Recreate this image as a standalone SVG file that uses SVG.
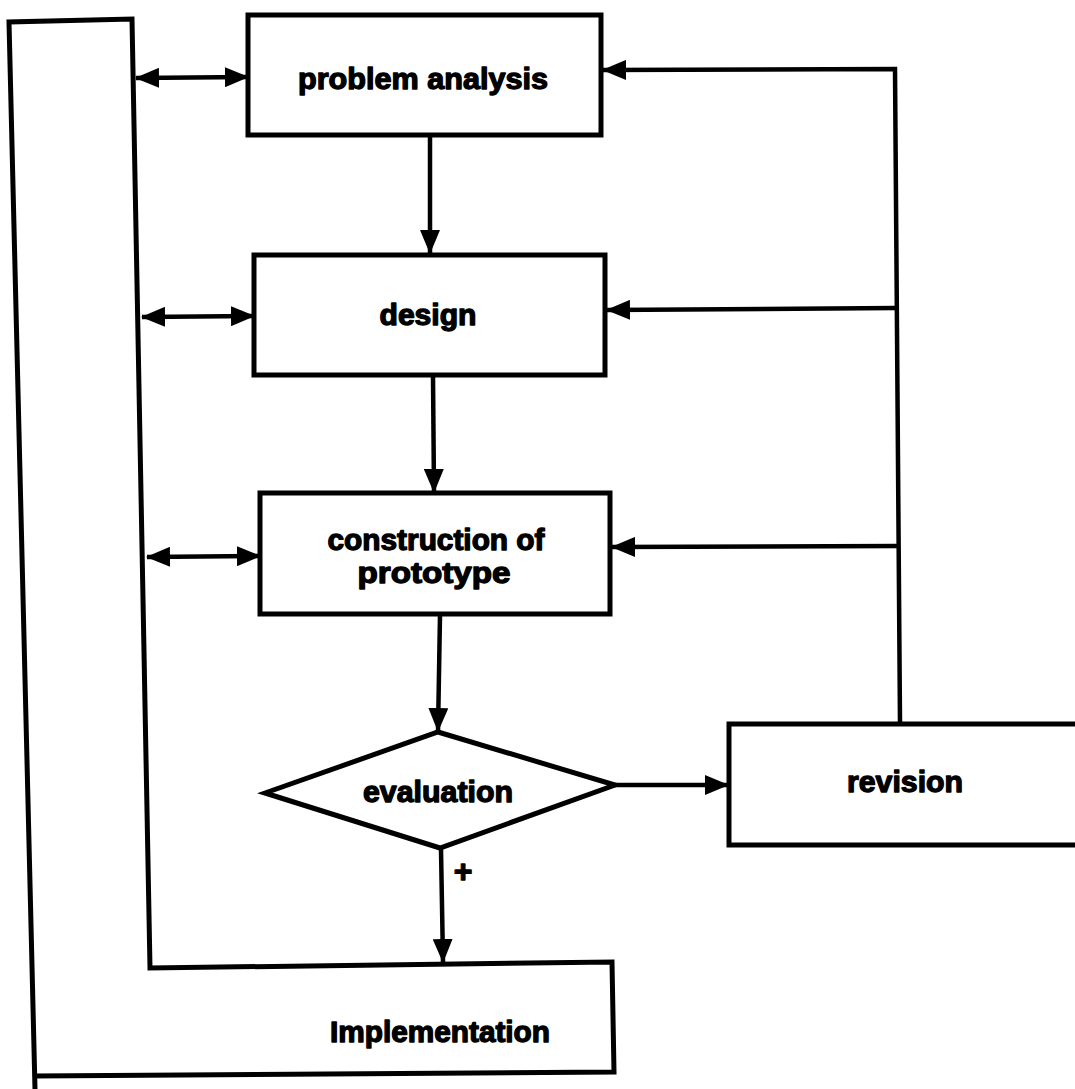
<svg xmlns="http://www.w3.org/2000/svg" width="1075" height="1089" viewBox="0 0 1075 1089">
<style>
.box{fill:#fff;stroke:#000;stroke-width:5;stroke-linejoin:miter}
.ln{fill:none;stroke:#000;stroke-width:4.5}
.t{font-family:"Liberation Sans",Arial,sans-serif;font-weight:bold;font-size:29px;fill:#000;stroke:#000;stroke-width:1.3;stroke-linejoin:round;text-anchor:middle}
</style>
<defs>
<marker id="ah" markerUnits="userSpaceOnUse" markerWidth="24" markerHeight="20" refX="23" refY="10" orient="auto-start-reverse">
<path d="M0,0 L24,10 L0,20 Z" fill="#000"/>
</marker>
</defs>
<rect width="1075" height="1089" fill="#fff"/>
<g id="implementation">
<path class="box" style="fill:none" d="M35,1089 L9,22 L132,19 L150,968 L612,962 L614,1072 L34,1076"/>
<text class="t" x="440" y="1042" textLength="220" lengthAdjust="spacingAndGlyphs">Implementation</text>
</g>
<g id="problem-analysis">
<rect class="box" x="248" y="15" width="353" height="120"/>
<text class="t" x="423" y="89" textLength="250" lengthAdjust="spacingAndGlyphs">problem analysis</text>
</g>
<g id="design">
<rect class="box" x="254" y="255" width="351" height="120"/>
<text class="t" x="428" y="325" textLength="97" lengthAdjust="spacingAndGlyphs">design</text>
</g>
<g id="construction">
<rect class="box" x="260" y="493" width="350" height="121"/>
<text class="t" x="436" y="550" textLength="217" lengthAdjust="spacingAndGlyphs">construction of</text>
<text class="t" x="434" y="583" textLength="153" lengthAdjust="spacingAndGlyphs">prototype</text>
</g>
<g id="evaluation">
<polygon class="box" points="438,732 615,785 440,848 265,793"/>
<text class="t" x="438" y="802" textLength="150" lengthAdjust="spacingAndGlyphs">evaluation</text>
</g>
<g id="revision">
<rect class="box" x="729" y="724" width="400" height="121"/>
<text class="t" x="905" y="792" textLength="116" lengthAdjust="spacingAndGlyphs">revision</text>
</g>
<g id="connectors">
<line class="ln" x1="136" y1="78" x2="248" y2="77" marker-start="url(#ah)" marker-end="url(#ah)"/>
<line class="ln" x1="142" y1="317" x2="254" y2="316" marker-start="url(#ah)" marker-end="url(#ah)"/>
<line class="ln" x1="147" y1="557" x2="260" y2="556" marker-start="url(#ah)" marker-end="url(#ah)"/>
<line class="ln" x1="430" y1="136" x2="430" y2="253" marker-end="url(#ah)"/>
<line class="ln" x1="433" y1="376" x2="434" y2="492" marker-end="url(#ah)"/>
<line class="ln" x1="440" y1="615" x2="438" y2="731" marker-end="url(#ah)"/>
<line class="ln" x1="441" y1="849" x2="443" y2="962" marker-end="url(#ah)"/>
<line class="ln" x1="615" y1="785" x2="728" y2="785" marker-end="url(#ah)"/>
<path class="ln" d="M900,723 L895,69 L603,70" marker-end="url(#ah)"/>
<line class="ln" x1="897" y1="308" x2="607" y2="310" marker-end="url(#ah)"/>
<line class="ln" x1="898" y1="546" x2="612" y2="547" marker-end="url(#ah)"/>
<text class="t" x="463" y="882" style="font-size:32px">+</text>
</g>
</svg>
